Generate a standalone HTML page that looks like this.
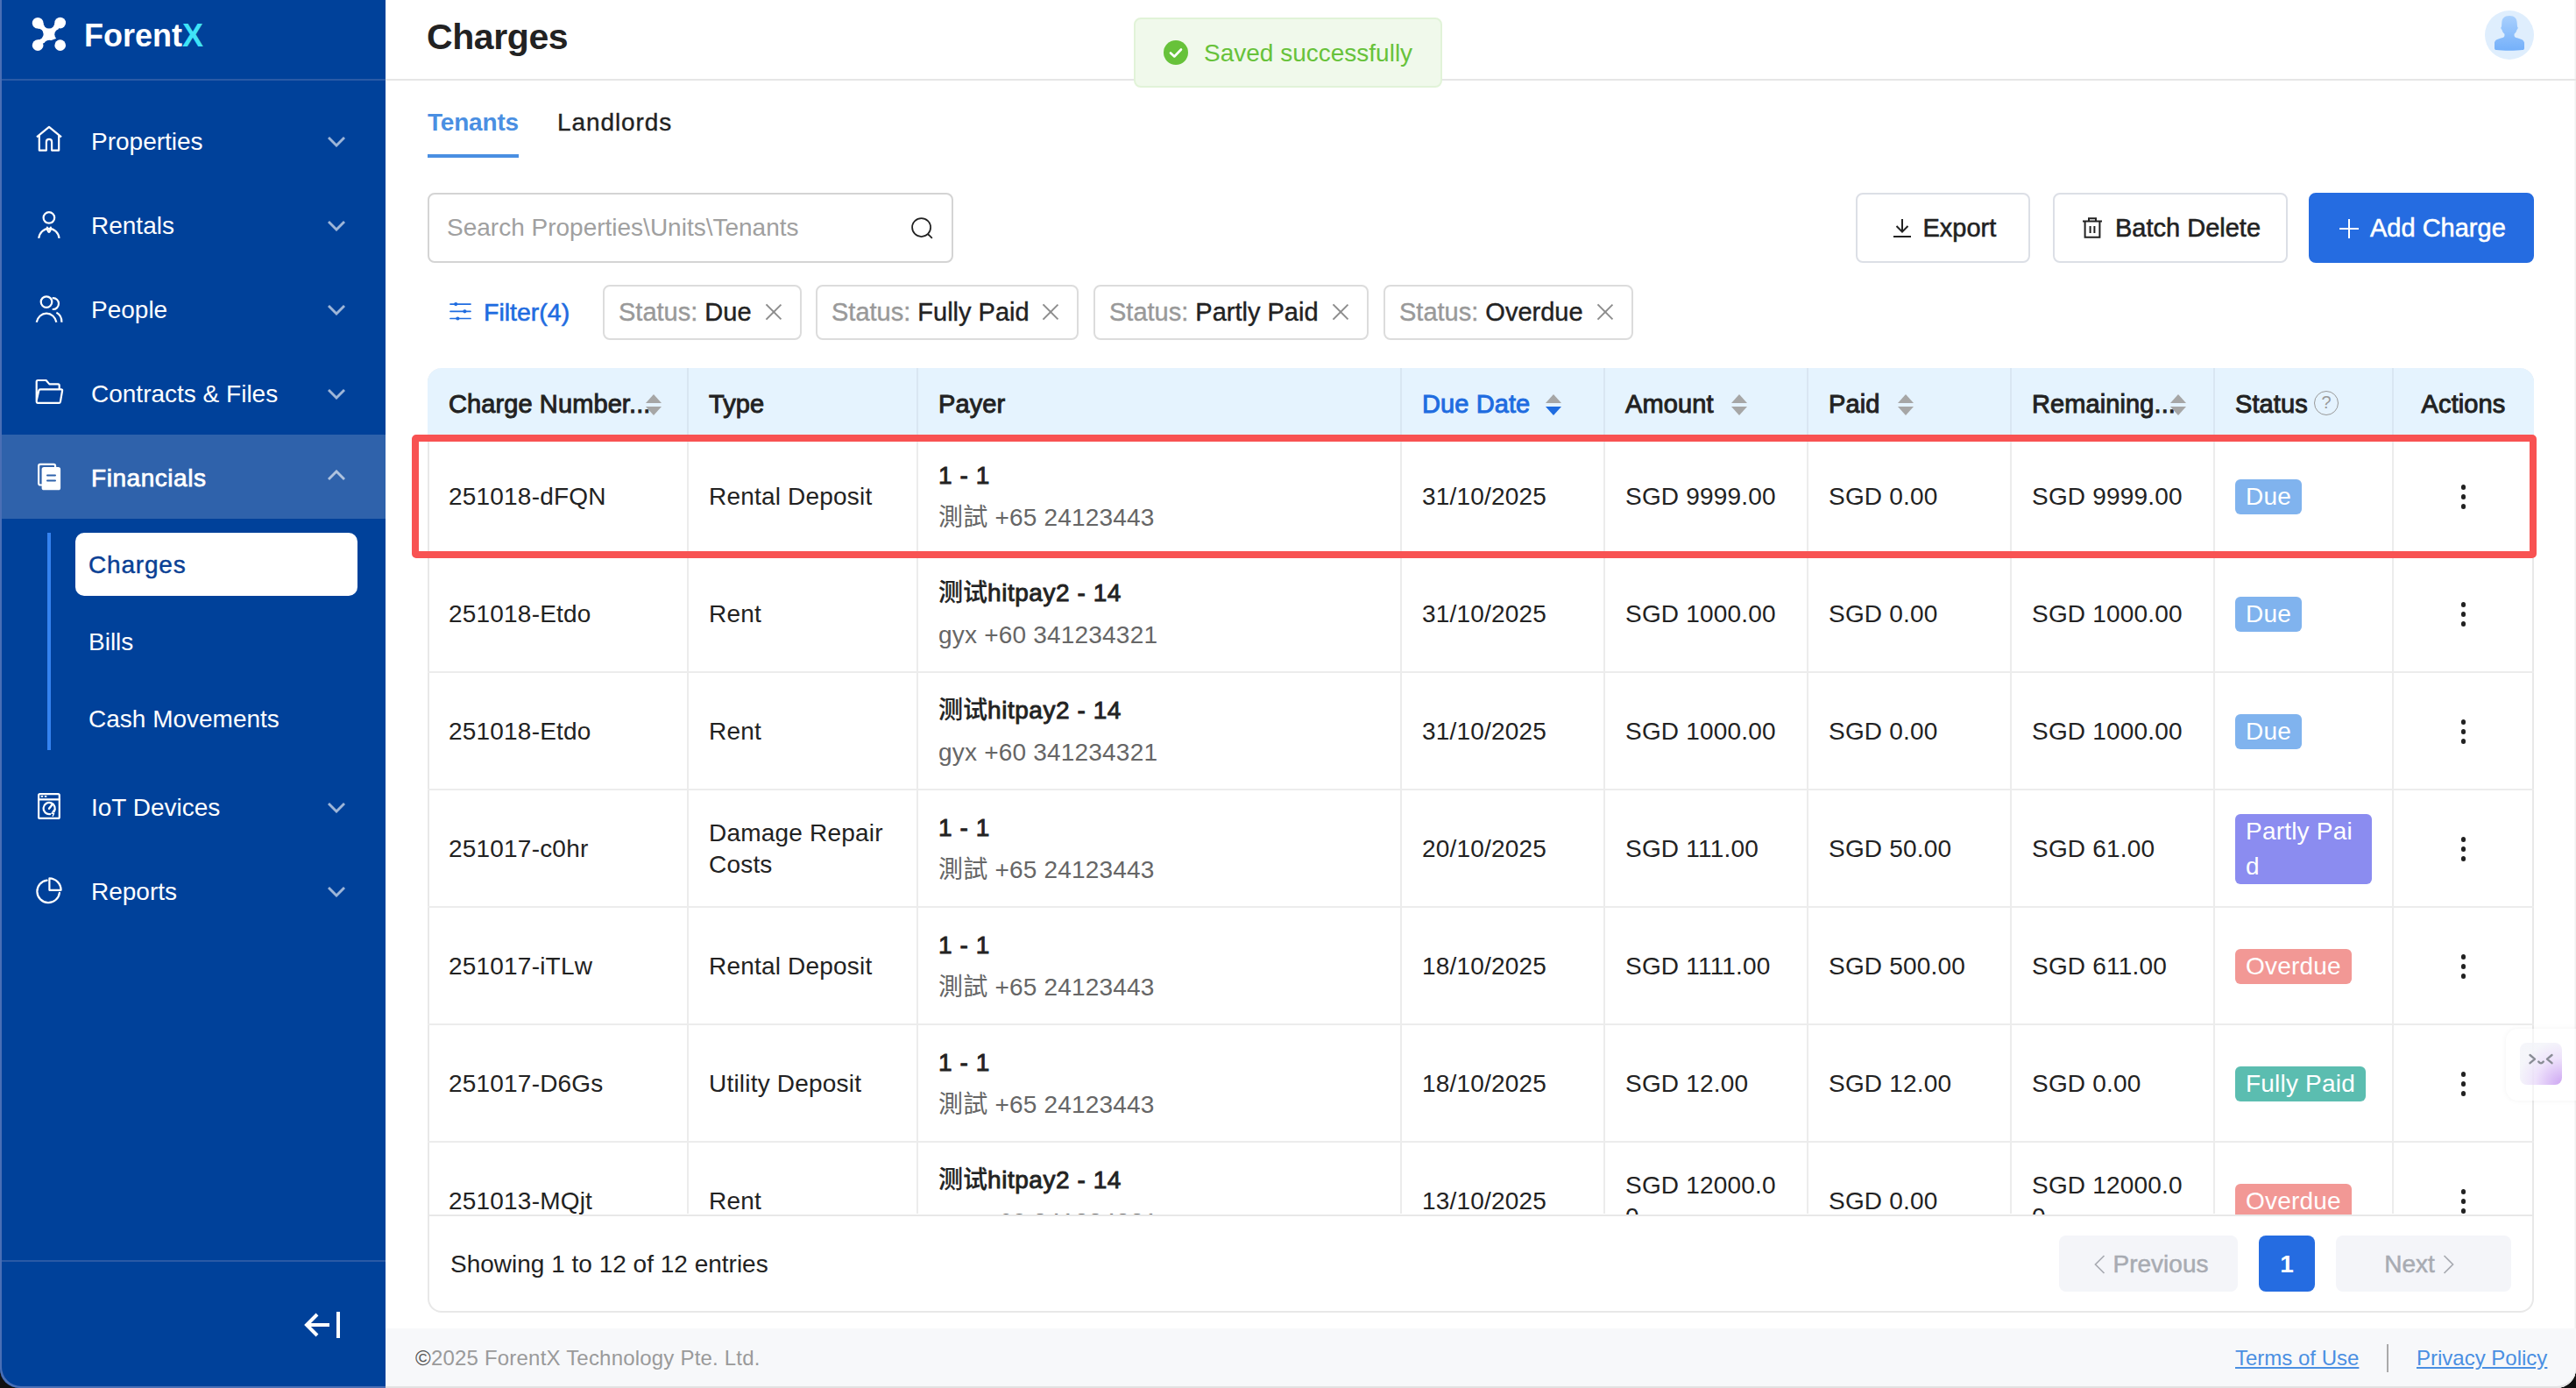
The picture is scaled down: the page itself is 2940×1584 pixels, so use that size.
<!DOCTYPE html>
<html><head><meta charset="utf-8"><title>Charges</title>
<style>
*{box-sizing:border-box;margin:0;padding:0}
html,body{width:2940px;height:1584px;overflow:hidden;background:#111}
#mainbg{position:absolute;left:440px;top:0;width:2500px;height:1584px;background:#fff;border-bottom-right-radius:22px;box-shadow:inset -1.5px 0 0 #f0f0f0}
body{position:relative;font-family:"Liberation Sans","Noto Sans CJK SC",sans-serif;color:#222;font-size:28px}
.abs{position:absolute}
/* sidebar */
#sb{position:absolute;left:0;top:0;width:440px;height:1584px;background:#00419a;border-bottom-left-radius:22px;overflow:hidden;box-shadow:inset 2px -2px 0 #4a6fb5}
#corner-bl{position:absolute;left:0;top:1540px;width:40px;height:44px;background:#111}
#sb .edge{position:absolute;left:0;top:0;width:2px;height:1560px;background:#4a6fb5;z-index:5}
#sb .sep{position:absolute;left:0;width:440px;height:2px;background:#2a5aa6}
.logo-t{position:absolute;left:96px;top:19.5px;font-weight:bold;font-size:36px;color:#fff;letter-spacing:0}
.logo-t span{color:#3fe3f7}
.nav{position:absolute;left:0;width:440px;height:96px;color:#fff}
.nav .ic{position:absolute;left:40px;top:33px;width:32px;height:32px}
.nav .tx{position:absolute;left:104px;top:1.5px;line-height:96px;font-size:28px}
.nav .cv{position:absolute;left:374px;top:43.5px;width:20px;height:12px}
.nav.act{background:#2f62ab}
.nav.act .tx{letter-spacing:0.55px;-webkit-text-stroke:0.75px #fff}
.nav.act .cv{top:40px}
.sub{position:absolute;left:86px;width:322px;height:72px;line-height:72px;padding-left:15px;padding-top:1px;color:#fff;font-size:28px}
.sub.sel{background:#fff;color:#0a3f94;border-radius:10px;-webkit-text-stroke:0.45px #0a3f94;letter-spacing:0.8px}
/* main */
#hdr{position:absolute;left:440px;top:0;width:2500px;height:92px;border-bottom:2px solid #e6e6e6}

#toast{position:absolute;left:1294px;top:20px;width:352px;height:80px;background:#f0f9eb;border:2px solid #e1f3d8;border-radius:8px}
.tab{position:absolute;top:121.5px;font-size:28px;line-height:36px;color:#222}
.tab.act{color:#4a8fe2;font-weight:bold;letter-spacing:-0.2px}
.tab.l{letter-spacing:0.9px;-webkit-text-stroke:0.35px #222}
#search{position:absolute;left:488px;top:220px;width:600px;height:80px;border:2px solid #d4d4d4;border-radius:8px}
.btn{position:absolute;top:220px;height:80px;border:2px solid #dcdfe6;border-radius:8px;background:#fff;font-size:29px;color:#222;-webkit-text-stroke:0.55px #222}
.btn.pri{-webkit-text-stroke:0.55px #fff}
.btn span{top:0;line-height:76px}
.btn.pri{background:#256ce1;border-color:#256ce1;color:#fff}
.ftag{position:absolute;top:325px;height:63px;border:2px solid #dcdcdc;border-radius:8px;line-height:59px;padding-left:16px;font-size:29px}
.ftag .k{color:#999;-webkit-text-stroke:0.4px #999}
.ftag .v{color:#222;-webkit-text-stroke:0.4px #222}
.ftag i{position:absolute;right:20.5px;top:19px;width:20px;height:20px}
.ftag i:before,.ftag i:after{content:"";position:absolute;left:9.15px;top:-2px;width:1.7px;height:24px;background:#8c8c8c;transform:rotate(45deg)}
.ftag i:after{transform:rotate(-45deg)}

#card{position:absolute;left:488px;top:420px;width:2404px;height:1078px;border:2px solid #e8e8e8;border-top:none;border-radius:16px}
#thead{position:absolute;left:-2px;top:0;width:2404px;height:80px;background:#e5f3fe;border-radius:16px 16px 0 0}
.th{position:absolute;top:0;height:80px;line-height:82px;padding-left:24px;font-size:29px;letter-spacing:0.1px;-webkit-text-stroke-width:0.95px;color:#222;white-space:nowrap;overflow:hidden}
.th.on{color:#1f6ce0}
.th.c{text-align:center;padding-left:0}
.hv,.bv{position:absolute;top:0;width:2px;height:80px;background:#d9e6f2}
.bv{background:#ececec;height:885px}
.sort{position:absolute;top:30px;width:18px;height:24px}
.sort:before,.sort:after{content:"";position:absolute;left:0;border-left:9px solid transparent;border-right:9px solid transparent}
.sort:before{top:0;border-bottom:10px solid #a6a6a6}
.sort:after{top:14px;border-top:10px solid #a6a6a6}
.sort.on:after{border-top-color:#1f6ce0}
.help{position:absolute;top:26px;width:28px;height:28px;border:1.7px solid #999;border-radius:50%;font-style:normal;font-size:20px;line-height:24px;text-align:center;color:#999}
#tbody{position:absolute;left:-2px;top:80px;width:2404px;height:888px;overflow:hidden;border-bottom:2px solid #e8e8e8}
.tr{position:absolute;left:0;width:2404px;height:134px;border-bottom:2px solid #ececec}
.td{position:absolute;top:1px;height:132px;padding:0 24px;display:flex;align-items:center;font-size:28px;line-height:36px;color:#222;letter-spacing:0.2px}
.td.c{justify-content:center;padding:0}
.td.ba{word-break:break-all}
.td.pay{flex-direction:column;align-items:flex-start;justify-content:center}
.p1{line-height:48px;-webkit-text-stroke-width:0.9px;letter-spacing:0.55px}
.p2{color:#666;line-height:48px}
.cj{font-weight:500;-webkit-text-stroke-width:0.2px;letter-spacing:0}
.tag{display:inline-block;color:#fff;border-radius:6px;padding:0 12px;line-height:40px;font-size:28px;word-break:break-all}
.tag.due{background:#80b3ee}
.tag.pp{background:#8b8cf0}
.tag.od{background:#f29895}
.tag.fp{background:#5bbdb0}
.kb{position:relative;width:5.5px;height:5.5px;border-radius:50%;background:#222;box-shadow:0 -11px 0 #222,0 11px 0 #222}
#tfoot{position:absolute;left:-2px;top:967px;width:2404px;height:110px;font-size:28px;color:#222}
.pg{position:absolute;top:23px;height:64px;border-radius:8px;display:flex;align-items:center;justify-content:center;gap:9px;padding-top:2px;font-size:28px;-webkit-text-stroke:0.5px #a8abb2}
.pg.cur{font-weight:bold;-webkit-text-stroke:0}
.pg.dis{background:#f4f5f9;color:#a8abb2}
.pg.cur{background:#256ce1;color:#fff}
#redbox{position:absolute;left:470px;top:496px;width:2424.5px;height:141px;border:8px solid #f85252;border-radius:5px}
#footer{position:absolute;left:440px;top:1516px;width:2500px;height:68px;background:#f7f8fa;border-bottom-right-radius:22px;box-shadow:inset 0 -2px 0 #e2e2e2}
.flink{top:0;line-height:68px;font-size:24px;color:#4a8fe2;text-decoration:underline}
#corner-br{position:absolute;left:2910px;top:1554px;width:30px;height:30px;background:radial-gradient(circle at 0 0,transparent 29px,#111 30px)}
#fw{position:absolute;left:2860px;top:1174px;width:100px;height:82px;background:rgba(255,255,255,.55);border-radius:14px;box-shadow:0 0 6px rgba(0,0,0,.05)}
#fwi{position:absolute;left:16px;top:16px;width:48px;height:48px;border-radius:8px;background:radial-gradient(circle at 100% 100%,rgba(196,150,240,.85),rgba(226,206,248,.6) 45%,rgba(243,244,249,.85) 75%)}
@media (max-width:2000px){html{zoom:0.5}}
</style></head>
<body>
<div id="mainbg"></div>

<div id="sb">
  <div class="edge"></div>
  <svg class="abs" style="left:30px;top:14px" width="52" height="50" viewBox="30 14 52 50">
    <path d="M43.14 26.24 L68.71 26.06 L64 44 L43.14 51.63 Z" fill="#fff"/>
    <g fill="#00419a"><circle cx="55.93" cy="26.06" r="6.5"/><circle cx="43.14" cy="38.9" r="6.5"/><circle cx="68.7" cy="39.3" r="6.4"/><circle cx="56.3" cy="52.2" r="6.5"/></g>
    <g fill="#fff"><circle cx="43.14" cy="26.24" r="6.35"/><circle cx="68.71" cy="26.06" r="6.35"/><circle cx="43.14" cy="51.63" r="6.35"/><circle cx="68.71" cy="51.63" r="6.35"/></g>
  </svg>
  <div class="logo-t">Forent<span>X</span></div>
  <div class="sep" style="top:90px"></div>

  <div class="nav" style="top:112px">
    <div class="tx">Properties</div>
    <svg class="cv" viewBox="0 0 20 12" fill="none" stroke="rgba(255,255,255,.62)" stroke-width="2.9"><path d="M1 1 L10 10 L19 1"/></svg>
  </div>
  <div class="nav" style="top:208px">
    <div class="tx">Rentals</div>
    <svg class="cv" viewBox="0 0 20 12" fill="none" stroke="rgba(255,255,255,.62)" stroke-width="2.9"><path d="M1 1 L10 10 L19 1"/></svg>
  </div>
  <div class="nav" style="top:304px">
    <div class="tx">People</div>
    <svg class="cv" viewBox="0 0 20 12" fill="none" stroke="rgba(255,255,255,.62)" stroke-width="2.9"><path d="M1 1 L10 10 L19 1"/></svg>
  </div>
  <div class="nav" style="top:400px">
    <div class="tx">Contracts &amp; Files</div>
    <svg class="cv" viewBox="0 0 20 12" fill="none" stroke="rgba(255,255,255,.62)" stroke-width="2.9"><path d="M1 1 L10 10 L19 1"/></svg>
  </div>
  <div class="nav act" style="top:496px">
    <div class="tx">Financials</div>
    <svg class="cv" viewBox="0 0 20 12" fill="none" stroke="rgba(255,255,255,.62)" stroke-width="2.9"><path d="M1 11 L10 2 L19 11"/></svg>
  </div>
  <div class="abs" style="left:54px;top:608px;width:4px;height:248px;background:#3583f0"></div>
  <div class="sub sel" style="top:608px">Charges</div>
  <div class="sub" style="top:696px">Bills</div>
  <div class="sub" style="top:784px">Cash Movements</div>
  <div class="nav" style="top:872px">
    <div class="tx">IoT Devices</div>
    <svg class="cv" viewBox="0 0 20 12" fill="none" stroke="rgba(255,255,255,.62)" stroke-width="2.9"><path d="M1 1 L10 10 L19 1"/></svg>
  </div>
  <div class="nav" style="top:968px">
    <div class="tx">Reports</div>
    <svg class="cv" viewBox="0 0 20 12" fill="none" stroke="rgba(255,255,255,.62)" stroke-width="2.9"><path d="M1 1 L10 10 L19 1"/></svg>
  </div>


  <svg class="abs" style="left:0;top:0" width="440" height="1100" viewBox="0 0 440 1100" fill="none" stroke="#fff" stroke-width="2.2" stroke-linejoin="round" stroke-linecap="round">
    <path d="M42 156.4 L56 144.8 L70 156.4 M44.8 154.6 V171.6 H52.9 V162 Q52.9 158.9 56 158.9 Q59.1 158.9 59.1 162 V171.6 H67.2 V154.6" stroke-linecap="butt"/>
    <circle cx="55.9" cy="248.4" r="6.3"/>
    <path d="M44.2 271.8 A11.8 12.6 0 0 1 67.6 271.8" stroke-linecap="butt"/>
    <path d="M53.9 259.6 Q54.1 263.6 55.9 264.9 Q57.7 263.6 57.9 259.6"/>
    <circle cx="53" cy="344.6" r="6.3"/>
    <path d="M60.6 340.2 A6.4 6.4 0 0 1 60.6 353" />
    <path d="M41.7 367.8 A11.6 12.8 0 0 1 64.4 367.8 M64.4 356.8 Q70.4 359.6 70.4 367.8" stroke-linecap="butt"/>
    <path d="M41.7 457 V435.4 Q41.7 434 43.1 434 H52.6 L56.4 438.4 H66.3 Q67.7 438.4 67.7 439.8 V444.4 M41.7 457 L44.3 445.8 Q44.6 444.4 46 444.4 H69.8 Q71.3 444.4 71.1 445.8 L68.9 458.5 Q68.6 459.9 67.2 459.9 H43.2 Q41.5 459.9 41.7 457"/>
    <rect x="44.1" y="529.9" width="19" height="23.6" rx="2"/>
    <rect x="47.6" y="533.1" width="21.5" height="26.2" rx="2.6" fill="#fff" stroke="none"/>
    <path d="M54 542.4 H63 M54 548.5 H63" stroke="#2f62ab" stroke-width="2"/>
    <rect x="44.1" y="906.1" width="23.7" height="27.8" rx="1.5"/>
    <path d="M44.1 912.3 H67.8"/>
    <path d="M47.4 908.9 H48.4 M51.6 908.9 H52.6" stroke-width="1.8"/>
    <path d="M61.6 926.3 A6.6 6.6 0 1 0 57.2 929.1"/>
    <path d="M56 922.8 L59.2 918.8" stroke-width="2.4"/>
    <path d="M61.2 924.8 L59 928.4 H61.6 L60.2 931.2" stroke-width="1.4"/>
    <path d="M53.6 1004.6 A12.8 12.8 0 1 0 67.9 1018.8"/>
    <path d="M56.4 1002.4 V1015.8 H69.6 A13.4 13.4 0 0 0 56.4 1002.4 Z"/>
  </svg>
  <div class="sep" style="top:1437.5px"></div>
  <svg class="abs" style="left:345.5px;top:1496px" width="46" height="34" viewBox="0 0 46 34" fill="none" stroke="#fff" stroke-width="4"><path d="M16 4 L4 16 L16 28 M4 16 H30"/><path d="M40 1 V31" /></svg>
</div>


<div id="hdr">
  <div class="abs" style="left:47px;top:-3.5px;line-height:90px;font-size:41px;letter-spacing:-0.4px;font-weight:bold;color:#222">Charges</div>
</div>
<div id="toast">
  <svg class="abs" style="left:32px;top:24px" width="28" height="28" viewBox="0 0 28 28"><circle cx="14" cy="14" r="14" fill="#67c23a"/><path d="M8 14.5 L12.3 18.5 L20 10.5" fill="none" stroke="#fff" stroke-width="2.6" stroke-linecap="round" stroke-linejoin="round"/></svg>
  <div class="abs" style="left:78px;top:0;line-height:78px;font-size:28px;color:#67c23a">Saved successfully</div>
</div>
<svg class="abs" style="left:2836px;top:12px" width="56" height="56" viewBox="0 0 56 56">
  <defs><linearGradient id="ag" x1="0" y1="0" x2="0" y2="1"><stop offset="0" stop-color="#a9d0fd"/><stop offset="1" stop-color="#74b0fa"/></linearGradient></defs>
  <circle cx="28" cy="28" r="28" fill="#dfeefd"/>
  <path fill="url(#ag)" d="M28 6 C22 6 19.5 9 19.3 14 L19 18.5 C18 19 18 21 19.5 22 C20 24 21 25.5 22.3 26.5 C22.8 28.5 22.5 30 20.5 31 C17 32 12 32.5 11 36.5 L11 43 C11 44.5 12 45 13 45 C20 46 36 46 43 45 C44 45 45 44.5 45 43 L45 36.5 C44 32.5 39 32 35.5 31 C33.5 30 33.2 28.5 33.7 26.5 C35 25.5 36 24 36.5 22 C38 21 38 19 37 18.5 L36.7 14 C36.5 9 34 6 28 6 Z"/>
</svg>

<div class="tab act" style="left:488px">Tenants</div>
<div class="tab l" style="left:636px">Landlords</div>
<div class="abs" style="left:488px;top:176px;width:104px;height:4px;background:#4a8fe2"></div>

<div id="search">
  <div class="abs" style="left:20px;top:0;line-height:76px;color:#a0a0a0;font-size:28px">Search Properties\Units\Tenants</div>
  <svg class="abs" style="left:548px;top:25px" width="28" height="28" viewBox="0 0 28 28" fill="none" stroke="#222" stroke-width="1.75"><circle cx="13.6" cy="12.5" r="10.5"/><path d="M21.6 20.6 L25.4 24.4" stroke-linecap="round"/></svg>
</div>

<div class="btn" style="left:2118px;width:199px">
  <svg class="abs" style="left:40px;top:27px" width="22" height="22" viewBox="0 0 22 22" fill="none" stroke="#222" stroke-width="2"><path d="M11 1 V15.5 M4.5 9 L11 15.5 L17.5 9 M1 21 H21"/></svg>
  <span class="abs" style="left:74.5px">Export</span>
</div>
<div class="btn" style="left:2343px;width:268px">
  <svg class="abs" style="left:30.5px;top:26px" width="24" height="24" viewBox="0 0 24 24" fill="none" stroke="#222" stroke-width="2"><path d="M1 4.5 H23 M8 4.5 V1.2 H16 V4.5 M3.6 4.5 V22.8 H20.4 V4.5 M9.6 10 V18 M14.4 10 V18"/></svg>
  <span class="abs" style="left:69px">Batch Delete</span>
</div>
<div class="btn pri" style="left:2635px;width:257px">
  <svg class="abs" style="left:33px;top:28px" width="22" height="22" viewBox="0 0 22 22" fill="none" stroke="#fff" stroke-width="2"><path d="M11 0 V22 M0 11 H22"/></svg>
  <span class="abs" style="left:68px">Add Charge</span>
</div>

<svg class="abs" style="left:512px;top:343px" width="26" height="24" viewBox="0 0 26 24" fill="#1f6ce0" stroke="#1f6ce0" stroke-width="1.7" stroke-linecap="round"><path d="M2 4.1 H25 M2 12.3 H25 M2 20.5 H25" fill="none"/><circle cx="8.2" cy="4.1" r="2.1" stroke="none"/><circle cx="18.4" cy="12.3" r="2.1" stroke="none"/><circle cx="10.4" cy="20.5" r="2.1" stroke="none"/></svg>
<div class="abs" style="left:552px;top:325px;line-height:62px;color:#1f6ce0;font-size:28.5px;-webkit-text-stroke:0.6px #1f6ce0">Filter(4)</div>

<div class="ftag" style="left:688px;width:227px"><span class="k">Status: </span><span class="v">Due</span><i></i></div>
<div class="ftag" style="left:931px;width:300px"><span class="k">Status: </span><span class="v">Fully Paid</span><i></i></div>
<div class="ftag" style="left:1248px;width:314px"><span class="k">Status: </span><span class="v">Partly Paid</span><i></i></div>
<div class="ftag" style="left:1579px;width:285px"><span class="k">Status: </span><span class="v">Overdue</span><i></i></div>


<div id="card">
<div id="thead">
<div class="th" style="left:0px;width:297px">Charge Number...</div>
<div class="th" style="left:297px;width:262px">Type</div>
<div class="th" style="left:559px;width:552px">Payer</div>
<div class="th on" style="left:1111px;width:232px">Due Date</div>
<div class="th" style="left:1343px;width:232px">Amount</div>
<div class="th" style="left:1575px;width:232px">Paid</div>
<div class="th" style="left:1807px;width:232px">Remaining...</div>
<div class="th" style="left:2039px;width:204px">Status</div>
<div class="th c" style="left:2243px;width:161px">Actions</div>
<i class="sort" style="left:249px"></i>
<i class="sort on" style="left:1276px"></i>
<i class="sort" style="left:1488px"></i>
<i class="sort" style="left:1678px"></i>
<i class="sort" style="left:1989px"></i>
<i class="help" style="left:2153px">?</i>
<div class="hv" style="left:296px"></div>
<div class="hv" style="left:558px"></div>
<div class="hv" style="left:1110px"></div>
<div class="hv" style="left:1342px"></div>
<div class="hv" style="left:1574px"></div>
<div class="hv" style="left:1806px"></div>
<div class="hv" style="left:2038px"></div>
<div class="hv" style="left:2242px"></div>
</div>
<div id="tbody">
<div class="tr" style="top:0px">
<div class="td" style="left:0px;width:297px">251018-dFQN</div>
<div class="td" style="left:297px;width:262px">Rental Deposit</div>
<div class="td pay" style="left:559px;width:552px"><div class="p1">1 - 1</div><div class="p2">測試 +65 24123443</div></div>
<div class="td" style="left:1111px;width:232px">31/10/2025</div>
<div class="td ba" style="left:1343px;width:232px">SGD 9999.00</div>
<div class="td ba" style="left:1575px;width:232px">SGD 0.00</div>
<div class="td ba" style="left:1807px;width:232px">SGD 9999.00</div>
<div class="td" style="left:2039px;width:204px"><span class="tag due">Due</span></div>
<div class="td c" style="left:2243px;width:161px"><i class="kb"></i></div>
</div>
<div class="tr" style="top:134px">
<div class="td" style="left:0px;width:297px">251018-Etdo</div>
<div class="td" style="left:297px;width:262px">Rent</div>
<div class="td pay" style="left:559px;width:552px"><div class="p1"><span class="cj">测试</span>hitpay2 - 14</div><div class="p2">gyx +60 341234321</div></div>
<div class="td" style="left:1111px;width:232px">31/10/2025</div>
<div class="td ba" style="left:1343px;width:232px">SGD 1000.00</div>
<div class="td ba" style="left:1575px;width:232px">SGD 0.00</div>
<div class="td ba" style="left:1807px;width:232px">SGD 1000.00</div>
<div class="td" style="left:2039px;width:204px"><span class="tag due">Due</span></div>
<div class="td c" style="left:2243px;width:161px"><i class="kb"></i></div>
</div>
<div class="tr" style="top:268px">
<div class="td" style="left:0px;width:297px">251018-Etdo</div>
<div class="td" style="left:297px;width:262px">Rent</div>
<div class="td pay" style="left:559px;width:552px"><div class="p1"><span class="cj">测试</span>hitpay2 - 14</div><div class="p2">gyx +60 341234321</div></div>
<div class="td" style="left:1111px;width:232px">31/10/2025</div>
<div class="td ba" style="left:1343px;width:232px">SGD 1000.00</div>
<div class="td ba" style="left:1575px;width:232px">SGD 0.00</div>
<div class="td ba" style="left:1807px;width:232px">SGD 1000.00</div>
<div class="td" style="left:2039px;width:204px"><span class="tag due">Due</span></div>
<div class="td c" style="left:2243px;width:161px"><i class="kb"></i></div>
</div>
<div class="tr" style="top:402px">
<div class="td" style="left:0px;width:297px">251017-c0hr</div>
<div class="td" style="left:297px;width:262px">Damage Repair Costs</div>
<div class="td pay" style="left:559px;width:552px"><div class="p1">1 - 1</div><div class="p2">測試 +65 24123443</div></div>
<div class="td" style="left:1111px;width:232px">20/10/2025</div>
<div class="td ba" style="left:1343px;width:232px">SGD 111.00</div>
<div class="td ba" style="left:1575px;width:232px">SGD 50.00</div>
<div class="td ba" style="left:1807px;width:232px">SGD 61.00</div>
<div class="td" style="left:2039px;width:204px"><span class="tag pp">Partly Paid</span></div>
<div class="td c" style="left:2243px;width:161px"><i class="kb"></i></div>
</div>
<div class="tr" style="top:536px">
<div class="td" style="left:0px;width:297px">251017-iTLw</div>
<div class="td" style="left:297px;width:262px">Rental Deposit</div>
<div class="td pay" style="left:559px;width:552px"><div class="p1">1 - 1</div><div class="p2">測試 +65 24123443</div></div>
<div class="td" style="left:1111px;width:232px">18/10/2025</div>
<div class="td ba" style="left:1343px;width:232px">SGD 1111.00</div>
<div class="td ba" style="left:1575px;width:232px">SGD 500.00</div>
<div class="td ba" style="left:1807px;width:232px">SGD 611.00</div>
<div class="td" style="left:2039px;width:204px"><span class="tag od">Overdue</span></div>
<div class="td c" style="left:2243px;width:161px"><i class="kb"></i></div>
</div>
<div class="tr" style="top:670px">
<div class="td" style="left:0px;width:297px">251017-D6Gs</div>
<div class="td" style="left:297px;width:262px">Utility Deposit</div>
<div class="td pay" style="left:559px;width:552px"><div class="p1">1 - 1</div><div class="p2">測試 +65 24123443</div></div>
<div class="td" style="left:1111px;width:232px">18/10/2025</div>
<div class="td ba" style="left:1343px;width:232px">SGD 12.00</div>
<div class="td ba" style="left:1575px;width:232px">SGD 12.00</div>
<div class="td ba" style="left:1807px;width:232px">SGD 0.00</div>
<div class="td" style="left:2039px;width:204px"><span class="tag fp">Fully Paid</span></div>
<div class="td c" style="left:2243px;width:161px"><i class="kb"></i></div>
</div>
<div class="tr" style="top:804px">
<div class="td" style="left:0px;width:297px">251013-MQjt</div>
<div class="td" style="left:297px;width:262px">Rent</div>
<div class="td pay" style="left:559px;width:552px"><div class="p1"><span class="cj">测试</span>hitpay2 - 14</div><div class="p2">gyx +60 341234321</div></div>
<div class="td" style="left:1111px;width:232px">13/10/2025</div>
<div class="td ba" style="left:1343px;width:232px">SGD 12000.00</div>
<div class="td ba" style="left:1575px;width:232px">SGD 0.00</div>
<div class="td ba" style="left:1807px;width:232px">SGD 12000.00</div>
<div class="td" style="left:2039px;width:204px"><span class="tag od">Overdue</span></div>
<div class="td c" style="left:2243px;width:161px"><i class="kb"></i></div>
</div>
<div class="bv" style="left:296px"></div>
<div class="bv" style="left:558px"></div>
<div class="bv" style="left:1110px"></div>
<div class="bv" style="left:1342px"></div>
<div class="bv" style="left:1574px"></div>
<div class="bv" style="left:1806px"></div>
<div class="bv" style="left:2038px"></div>
<div class="bv" style="left:2242px"></div>
</div>
<div id="tfoot"><div class="abs" style="left:26px;top:1px;line-height:110px">Showing 1 to 12 of 12 entries</div>
<div class="pg dis" style="left:1862px;width:204px;padding-left:6px"><svg width="13" height="22" viewBox="0 0 13 22" fill="none" stroke="#a8abb2" stroke-width="1.7"><path d="M11.5 1 L1.5 11 L11.5 21"/></svg> Previous</div>
<div class="pg cur" style="left:2090px;width:64px">1</div>
<div class="pg dis" style="left:2178px;width:200px;padding-right:10px">Next <svg width="13" height="22" viewBox="0 0 13 22" fill="none" stroke="#a8abb2" stroke-width="1.7"><path d="M1.5 1 L11.5 11 L1.5 21"/></svg></div>
</div>
</div>
<div id="redbox"></div>
<div id="footer">
  <div class="abs" style="left:34px;top:0;line-height:68px;font-size:24px;letter-spacing:0.2px;color:#9a9a9a"><span style="color:#555">&copy;</span>2025 ForentX Technology Pte. Ltd.</div>
  <a class="abs flink" style="left:2111px">Terms of Use</a>
  <div class="abs" style="left:2284px;top:18px;width:2px;height:32px;background:#aaa"></div>
  <a class="abs flink" style="left:2318px">Privacy Policy</a>
</div>

<div id="fw"><div id="fwi"><svg width="48" height="48" viewBox="0 0 48 48" fill="none" stroke="#8a8d96" stroke-width="2.4" stroke-linecap="round" stroke-linejoin="round"><path d="M11.5 14 L17 18.6 L11.5 23.2 M36.5 14 L31 18.6 L36.5 23.2 M21.2 21.6 Q24 25.2 26.8 21.6"/></svg></div></div>
</body></html>
